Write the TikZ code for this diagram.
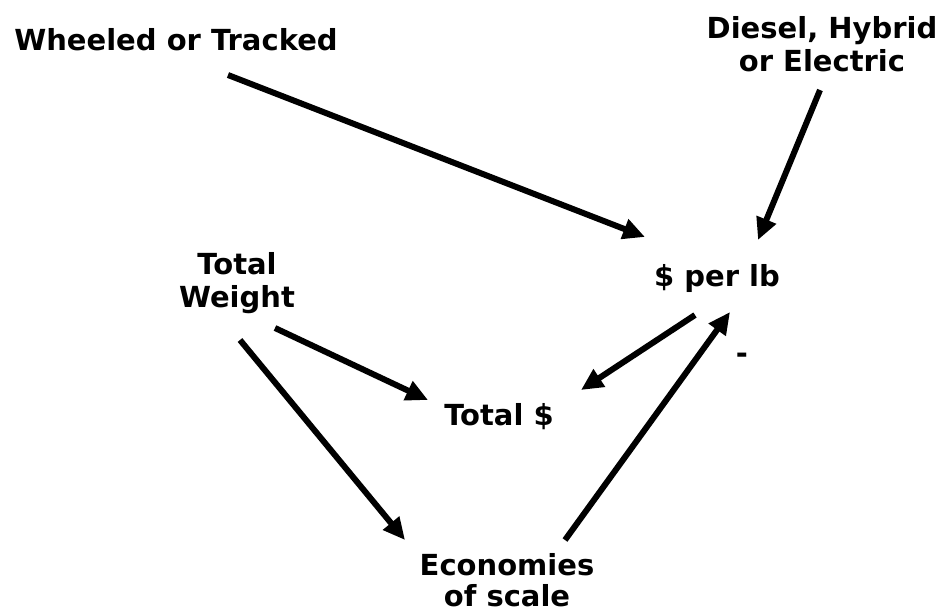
\documentclass[tikz,border=0pt]{standalone}
\usepackage{fontspec}
\setmainfont{DejaVu Sans}
\usetikzlibrary{arrows.meta}
\begin{document}
\begin{tikzpicture}[x=1pt,y=-1pt,
  lbl/.style={font=\bfseries\fontsize{29}{33}\selectfont, align=center, inner sep=0pt},
  link/.style={line width=6pt, -{Triangle[length=22pt,width=20pt]}}]
\useasboundingbox (0,0) rectangle (941,614);

% factors
\node[lbl] (wt)   at (176,40)  {Wheeled or Tracked};
\node[lbl] (fuel) at (822,44)  {Diesel, Hybrid\\or Electric};
\node[lbl] (ppl)  at (717,278) {\$ per lb};
\node[lbl] (tw)   at (237,283) {Total\\Weight};
\node[lbl] (tot)  at (499,417) {Total \$};
\node[lbl, font=\bfseries\fontsize{29}{31}\selectfont] (eos) at (507,580) {Economies\\of scale};
\node[lbl] (neg)  at (742,358) {-};

% connector end points, placed relative to the nodes
\coordinate (wt-o)   at ([shift={(52,35)}]wt.center);
\coordinate (ppl-i1) at ([shift={(-72,-41)}]ppl.center);
\coordinate (fuel-o) at ([shift={(-2,46)}]fuel.center);
\coordinate (ppl-i2) at ([shift={(41,-38)}]ppl.center);
\coordinate (ppl-o)  at ([shift={(-22,37)}]ppl.center);
\coordinate (tot-i1) at ([shift={(82,-27)}]tot.center);
\coordinate (tw-o1)  at ([shift={(38,45)}]tw.center);
\coordinate (tot-i2) at ([shift={(-71,-17)}]tot.center);
\coordinate (tw-o2)  at ([shift={(3,57)}]tw.center);
\coordinate (eos-i)  at ([shift={(-102,-40)}]eos.center);
\coordinate (eos-o)  at ([shift={(58,-40)}]eos.center);
\coordinate (ppl-i3) at ([shift={(13,34)}]ppl.center);

\draw[link] (wt-o) -- (ppl-i1);
\draw[link] (fuel-o) -- (ppl-i2);
\draw[link] (ppl-o) -- (tot-i1);
\draw[link] (tw-o1) -- (tot-i2);
\draw[link] (tw-o2) -- (eos-i);
\draw[link] (eos-o) -- (ppl-i3);
\end{tikzpicture}
\end{document}
